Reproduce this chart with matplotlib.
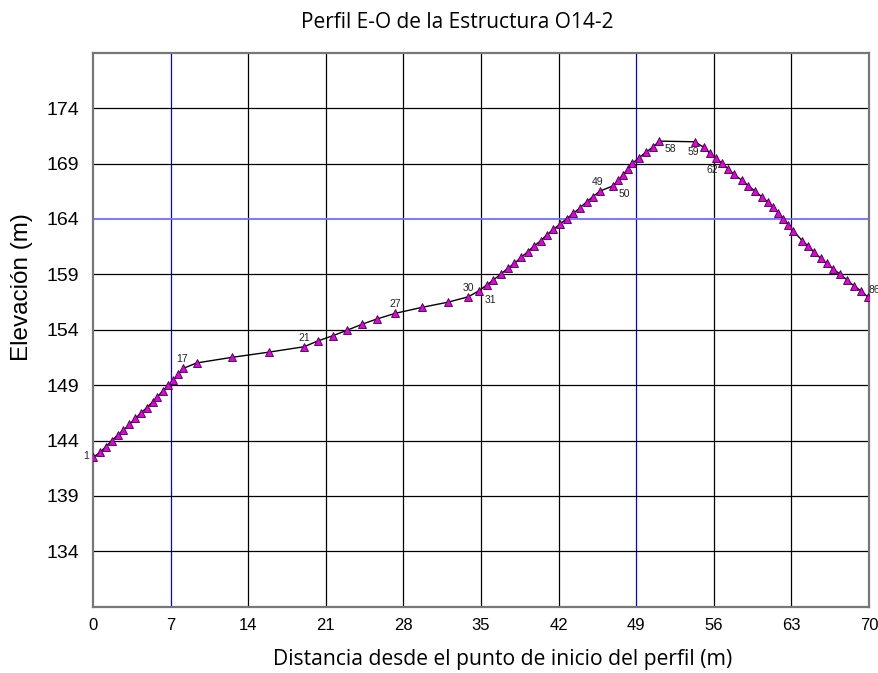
import matplotlib
matplotlib.use("Agg")
import matplotlib.pyplot as plt

# Point distances (m) and elevations (m), points 1..86
dist = [0.03, 0.63, 1.14, 1.68, 2.22, 2.74, 3.28, 3.82, 4.33, 4.84, 5.38, 5.80, 6.28, 6.77, 7.25, 7.70, 8.15,
        9.35, 12.51, 15.90,
        19.03, 20.32, 21.62, 22.94, 24.29, 25.59, 27.24, 29.65, 32.05, 33.85,
        34.80, 35.51, 36.11, 36.78, 37.41, 38.00, 38.61, 39.21, 39.78, 40.38, 40.92, 41.52, 42.12, 42.73,
        43.32, 43.93, 44.53, 45.07, 45.73,
        46.93, 47.39, 47.78, 48.23, 48.65, 49.25, 49.86, 50.53, 51.08,
        54.30, 55.11, 55.65, 56.20, 56.77, 57.31, 57.82, 58.52, 59.11, 59.72, 60.32, 60.92, 61.37, 61.79,
        62.27, 62.72, 63.17, 63.98, 64.52, 65.06, 65.64, 66.18, 66.78, 67.38, 68.04, 68.64, 69.27, 69.93]
elev = [142.47, 142.93, 143.43, 143.97, 144.49, 144.94, 145.45, 145.99, 146.50, 146.95, 147.49, 147.94, 148.46, 149.00, 149.45, 149.97, 150.51,
        151.00, 151.50, 151.98,
        152.46, 153.00, 153.45, 153.96, 154.50, 154.96, 155.47, 156.01, 156.49, 156.97,
        157.50, 158.03, 158.48, 159.02, 159.53, 159.98, 160.52, 161.03, 161.55, 162.02, 162.54, 163.05, 163.53, 164.01,
        164.50, 165.00, 165.54, 165.99, 166.51,
        166.99, 167.50, 167.95, 168.47, 169.01, 169.52, 170.00, 170.51, 171.02,
        170.96, 170.45, 169.91, 169.46, 169.01, 168.49, 168.02, 167.50, 166.99, 166.51, 166.00, 165.49, 165.04, 164.57,
        164.03, 163.49, 162.93, 162.02, 161.55, 160.98, 160.44, 159.98, 159.47, 159.02, 158.48, 157.96, 157.51, 156.92]

# Labelled point numbers and label placement (offset in points, alignment)
label_pts = [1, 17, 21, 27, 30, 31, 49, 50, 58, 59, 62, 86]
label_off = {1: (-3, 1, 'right', 'center'), 17: (-1, 3, 'center', 'bottom'), 21: (0, 3, 'center', 'bottom'),
             27: (0, 3, 'center', 'bottom'), 30: (0, 3, 'center', 'bottom'), 31: (4, -3, 'left', 'top'),
             49: (-2, 3, 'center', 'bottom'), 50: (4, -2, 'left', 'top'), 58: (4, -2, 'left', 'top'),
             59: (-1, -4, 'center', 'top'), 62: (-3, -5, 'center', 'top'), 86: (0, 2, 'left', 'bottom')}

xticks = [0, 7, 14, 21, 28, 35, 42, 49, 56, 63, 70]
yticks = [134, 139, 144, 149, 154, 159, 164, 169, 174]

fig = plt.figure(figsize=(8.79, 6.73), dpi=100)
ax = fig.add_axes([93/879, 1-606.7/673, (869-93)/879, (606.7-52.7)/673])
ax.set_xlim(0, 70)
ax.set_ylim(129, 179)

# grid lines
for xv in xticks[1:-1]:
    c = '#0000ff' if xv in (7, 49) else 'black'
    ax.axvline(xv, color=c, lw=0.9, zorder=1)
for yv in yticks:
    if yv == 164:
        ax.axhline(yv, color='#6f6fff', lw=1.3, zorder=1)
    else:
        ax.axhline(yv, color='black', lw=0.9, zorder=1)

ax.plot(dist, elev, color='black', lw=1.0, zorder=2)
ax.plot(dist, elev, linestyle='none', marker='^', markersize=5.2,
        markerfacecolor='#e000e0', markeredgecolor='#400040', markeredgewidth=0.6, zorder=3)

for n in label_pts:
    dx, dy, ha, va = label_off[n]
    ax.annotate(str(n), (dist[n-1], elev[n-1]), xytext=(dx, dy), textcoords='offset points',
                ha=ha, va=va, fontsize=7.5, family='Liberation Sans', color='#222222', zorder=4)

for s in ax.spines.values():
    s.set_color('#777777')
    s.set_linewidth(1.6)

ax.set_xticks(xticks)
ax.set_yticks(yticks)
ax.tick_params(axis='both', length=0)
ax.tick_params(axis='x', pad=8, labelsize=12)
ax.tick_params(axis='y', pad=10, labelsize=14)
for lab in ax.get_xticklabels() + ax.get_yticklabels():
    lab.set_family('Liberation Sans')

fig.text(22/879, 1 - 287/673, 'Elevación (m)', rotation=90, ha='center', va='center',
         fontsize=17.5, family='Liberation Sans')
fig.text(0.5 * (271 + 735) / 879, 1 - 660/673, 'Distancia desde el punto de inicio del perfil (m)',
         ha='center', va='center', fontsize=15.2, family='Open Sans')
fig.text(457/879, 1 - 22/673, 'Perfil E-O de la Estructura O14-2',
         ha='center', va='center', fontsize=15, family='Open Sans')

fig.savefig('out.png', dpi=100)
